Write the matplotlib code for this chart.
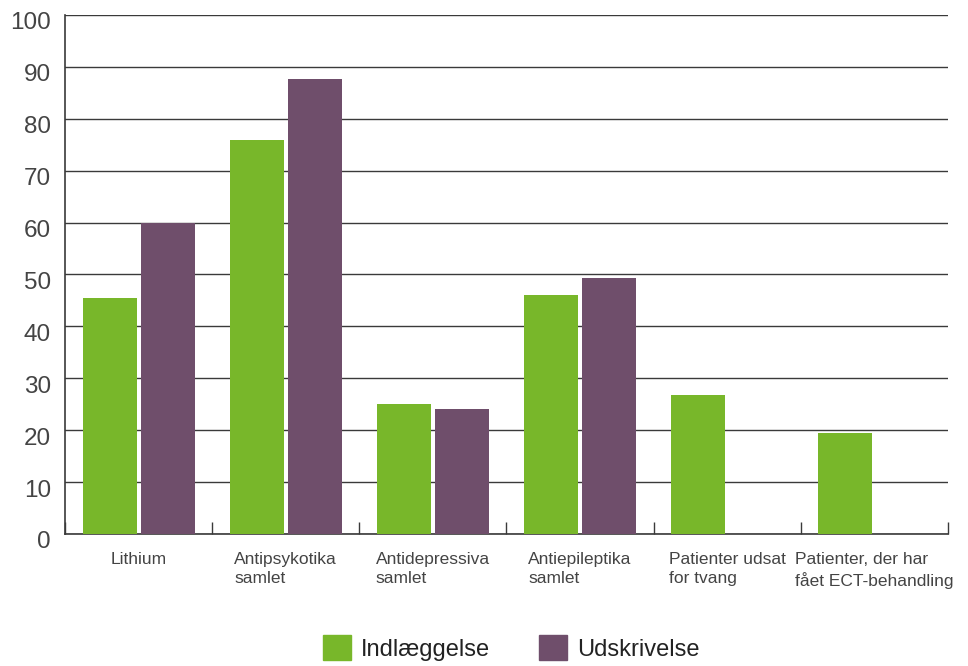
import matplotlib
matplotlib.use("Agg")
import matplotlib.pyplot as plt
import matplotlib.transforms as mtransforms
import numpy as np
from matplotlib.patches import Patch

plt.rcParams["font.family"] = ["Liberation Sans", "DejaVu Sans"]

categories = [
    "Lithium",
    "Antipsykotika\nsamlet",
    "Antidepressiva\nsamlet",
    "Antiepileptika\nsamlet",
    "Patienter udsat\nfor tvang",
    "Patienter, der har\nfået ECT-behandling",
]
indlaeggelse = [45.5, 76, 25, 46, 26.8, 19.5]
udskrivelse = [60, 87.7, 24.1, 49.3, None, None]
series_names = ["Indlæggelse", "Udskrivelse"]

GREEN = "#78b72a"
PURPLE = "#6f4e6b"
GRID = "#3a3a3a"
TEXT = "#444444"

fig = plt.figure(figsize=(9.68, 6.66), dpi=100, facecolor="white")
ax = fig.add_axes([0.0671, 0.1982, 0.9122, 0.7793])

x = np.arange(len(categories))
w = 0.367
off = 0.197
ax.bar(x - off, indlaeggelse, width=w, color=GREEN, zorder=3)
ux = [xi + off for xi, v in zip(x, udskrivelse) if v is not None]
uv = [v for v in udskrivelse if v is not None]
ax.bar(ux, uv, width=w, color=PURPLE, zorder=3)

ax.set_xlim(-0.5, len(categories) - 0.5)
ax.set_ylim(0, 100)
ax.set_yticks(range(0, 101, 10))
ax.yaxis.grid(True, color=GRID, linewidth=1.0, zorder=1)
ax.tick_params(axis="y", length=0, pad=10, labelsize=17.5, labelcolor=TEXT)
# labels sit a little below their gridlines in the original
shift = mtransforms.ScaledTranslation(0, -6 / 100, fig.dpi_scale_trans)
for lbl in ax.get_yticklabels():
    lbl.set_transform(lbl.get_transform() + shift)

ax.set_xticks(x)
ax.set_xticklabels(categories, fontsize=12.5, color=TEXT, linespacing=1.35,
                   multialignment="left", va="top")
ax.tick_params(axis="x", which="major", length=0, pad=13)
ax.set_xticks(np.arange(-0.5, len(categories)), minor=True)
ax.tick_params(axis="x", which="minor", direction="in", length=9,
               width=1.0, color=GRID)

for s in ["top", "right"]:
    ax.spines[s].set_visible(False)
for s in ["left", "bottom"]:
    ax.spines[s].set_color(GRID)
    ax.spines[s].set_linewidth(1.2)

handles = [Patch(color=GREEN), Patch(color=PURPLE)]
fig.legend(handles, series_names, loc="center", ncol=2,
           bbox_to_anchor=(0.528, 0.027), frameon=False, fontsize=17,
           handlelength=1.2, handleheight=1.2, handletextpad=0.4,
           columnspacing=2.08, labelcolor="#222222")

fig.savefig("out.png", facecolor="white")
